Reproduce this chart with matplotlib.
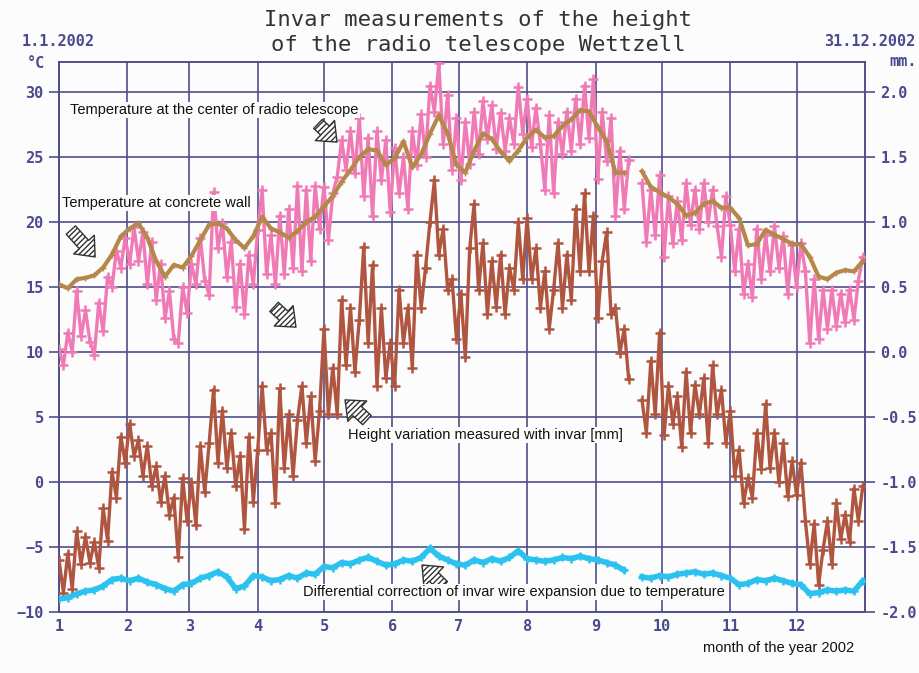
import numpy as np
import matplotlib
matplotlib.use("Agg")
import matplotlib.pyplot as plt
from matplotlib.patches import FancyArrowPatch

# month starts (day of year) and labels
month_starts = [0, 31, 59, 90, 120, 151, 181, 212, 243, 273, 304, 334]
month_labels = ['1', '2', '3', '4', '5', '6', '7', '8', '9', '10', '11', '12']

nan = np.nan

# temperature at centre of radio telescope, every 2 days (deg C)
temp_center = [
    10.2, 9.0, 11.5, 10.0, 14.7, 11.2, 13.2, 10.8, 9.8, 13.8, 11.6, 15.8, 15.0, 17.8, 16.5, 18.8,
    16.8, 19.6, 17.0, 19.2, 15.2, 18.5, 14.0, 16.8, 12.6, 14.7, 11.0, 10.7, 15.0, 13.0,
    16.8, 15.2, 18.8, 15.5, 14.4, 22.3, 18.0, 19.9, 15.8, 18.5, 13.5, 16.8, 12.9, 17.5, 15.2,
    19.4, 22.5, 16.0, 19.0, 15.2, 20.5, 16.0, 21.0, 16.5, 22.8, 16.2, 22.5, 17.0, 22.8, 19.5,
    22.7, 18.6, 22.2, 23.5, 26.3, 24.0, 27.0, 23.8, 28.0, 22.0, 26.5, 20.5, 27.0, 23.2, 26.3, 20.8,
    25.7, 22.2, 25.0, 21.0, 27.0, 24.4, 28.3, 25.0, 30.5, 28.5, 32.2, 26.0, 29.8, 24.0, 28.0,
    23.2, 27.7, 24.5, 28.5, 25.2, 29.3, 26.4, 29.0, 25.6, 28.4, 25.5, 28.0, 26.0, 30.4, 26.8,
    29.5, 25.8, 28.8, 26.0, 22.5, 28.2, 22.2, 27.7, 25.2, 28.5, 25.5, 29.5, 26.0, 30.5, 26.5, 31.0,
    23.3, 28.5, 24.7, 28.0, 20.5, 25.5, 21.0, 24.8, nan, nan, 23.0, 18.5, 22.5, 19.0, 23.6,
    17.3, 22.0, 18.4, 21.6, 18.6, 23.0, 19.8, 22.5, 19.5, 23.0, 20.0, 22.5, 19.7, 17.3, 22.0,
    19.8, 16.2, 19.5, 14.5, 16.8, 14.2, 19.5, 15.6, 19.0, 16.2, 19.7, 16.5, 18.9, 14.5, 18.2,
    15.0, 18.4, 16.2, 10.7, 15.6, 11.0, 14.8, 11.8, 14.8, 12.0, 14.5, 12.3, 14.8, 12.5, 15.5, 17.3,
]

# height variation measured with invar, every 2 days (drawn on the deg C scale)
height_var = [
    -6.0, -8.5, -5.5, -8.2, -3.8, -6.3, -4.2, -6.2, -4.6, -6.6, -2.0, -4.5, 0.8, -1.2, 3.5, 1.5,
    4.5, 2.0, 3.2, 0.5, 2.8, -0.3, 1.2, -1.5, 0.5, -2.5, -1.2, -5.8, 0.3, -3.0,
    0.0, -3.3, 2.8, -0.8, 3.0, 7.1, 1.5, 5.5, 1.1, 3.8, -0.3, 2.0, -3.6, 3.5, -1.5,
    2.5, 7.4, 2.5, 3.8, -1.6, 7.2, 1.1, 5.2, 0.5, 4.8, 7.4, 3.0, 6.6, 1.6, 5.5,
    11.8, 5.2, 8.8, 5.2, 14.0, 9.0, 13.4, 8.5, 12.5, 18.1, 10.7, 16.7, 7.4, 13.4, 8.0, 10.7,
    7.4, 14.8, 10.7, 13.4, 8.8, 17.5, 13.4, 16.5, 20.0, 23.2, 17.5, 19.5, 14.8, 15.6, 11.0,
    14.5, 9.6, 18.0, 21.4, 14.8, 18.4, 12.9, 17.0, 13.5, 17.5, 12.9, 16.5, 14.8, 20.0, 15.6,
    20.3, 15.6, 18.0, 13.4, 16.2, 11.8, 14.8, 18.4, 13.4, 17.5, 14.0, 21.0, 16.2, 22.2, 16.2, 20.5,
    12.6, 17.0, 19.2, 12.9, 13.4, 9.9, 11.8, 7.9, nan, nan, 6.3, 3.8, 9.3, 5.2, 11.5,
    3.6, 7.4, 4.5, 6.6, 2.7, 8.5, 3.8, 7.5, 5.2, 8.0, 3.0, 9.0, 5.2, 7.1, 3.0,
    5.5, 0.5, 2.5, -1.6, 0.3, -1.2, 3.8, 1.0, 6.0, 1.1, 3.8, 0.0, 3.0, -1.1, 1.6,
    -1.0, 1.5, -3.0, -6.3, -3.2, -7.9, -5.2, -3.0, -6.3, -1.6, -4.4, -2.5, -4.6, -0.5, -3.0, -0.3,
]

# temperature at concrete wall, every 4 days (deg C)
temp_wall = [
    15.2, 14.9, 15.6, 15.7, 15.9, 16.5, 17.5, 18.9,
    19.5, 19.9, 18.8, 17.0, 15.8, 16.7, 16.5,
    17.4, 18.6, 19.8, 19.9, 19.5, 18.6, 18.0, 18.9,
    20.4, 19.5, 19.2, 18.8, 19.3, 20.0, 20.4,
    21.2, 22.0, 23.1, 24.0, 25.0, 25.6, 25.5, 24.4,
    24.9, 26.2, 24.2, 25.2, 26.8, 28.2, 26.8,
    24.4, 23.8, 25.5, 26.8, 26.4, 25.4, 24.7, 25.5,
    26.5, 27.1, 26.5, 26.6, 27.4, 27.9, 28.6, 28.5,
    27.3, 26.2, 23.8, 23.8, nan, 23.9, 22.7,
    22.3, 21.9, 21.4, 20.5, 20.7, 21.4, 21.6, 21.1,
    21.1, 20.3, 18.2, 18.3, 19.4, 19.0, 18.7, 18.3,
    18.3, 17.3, 15.8, 15.6, 16.1, 16.3, 16.2, 17.0,
]

# differential correction of invar wire expansion, every 4 days (deg C scale)
diff_corr = [
    -9.0, -8.9, -8.6, -8.4, -8.3, -8.0, -7.5, -7.4,
    -7.6, -7.4, -7.7, -7.9, -8.2, -8.4, -7.9,
    -7.8, -7.4, -7.2, -6.9, -7.3, -8.2, -8.0, -7.2,
    -7.3, -7.6, -7.5, -7.2, -7.4, -7.0, -7.1,
    -6.5, -6.6, -6.2, -6.3, -6.0, -5.8, -6.1, -6.4,
    -6.3, -6.0, -6.1, -5.8, -5.1, -5.7, -6.0,
    -6.3, -6.4, -6.0, -6.2, -5.9, -6.1, -5.8, -5.3,
    -5.9, -6.0, -6.1, -6.0, -5.8, -5.9, -5.7, -5.9,
    -6.0, -6.2, -6.4, -6.8, nan, -7.3, -7.4,
    -7.2, -7.3, -7.1, -7.0, -6.9, -7.1, -7.0, -7.2,
    -7.4, -7.9, -7.8, -7.5, -7.6, -7.4, -7.6, -7.8,
    -7.9, -8.6, -8.5, -8.3, -8.4, -8.3, -8.4, -7.6,
]

days2 = np.arange(len(temp_center)) * 2
days4 = np.arange(len(temp_wall)) * 4

frame_col = '#4f4f8c'
label_col = '#4a4a8e'

fig = plt.figure(figsize=(9.19, 6.73), dpi=100, facecolor='#fcfcfc')
ax = fig.add_axes([59 / 919, 1 - 612 / 673, 806 / 919, 550 / 673])
ax.set_facecolor('#fcfcfc')

ax.plot(days2, temp_center, color='#f07ab6', lw=2.4, marker='+', ms=7, mew=1.8, zorder=3)
ax.plot(days4, temp_wall, color='#b5874a', lw=3, marker='+', ms=4, zorder=4)
ax.plot(days2, height_var, color='#b0553f', lw=2.4, marker='+', ms=7, mew=1.8, zorder=3)
ax.plot(days4, diff_corr, color='#2cc2f0', lw=4, marker='+', ms=6, mew=1.8, zorder=3)

ax.set_xlim(0, 365)
ax.set_ylim(-10, 30 + 30 / 13)
ax.set_xticks(month_starts)
ax.set_xticklabels(month_labels)
ax.set_yticks(range(-10, 31, 5))
ax.grid(True, color=frame_col, lw=1.2, zorder=1)
ax.set_axisbelow(True)
for s in ax.spines.values():
    s.set_color(frame_col)
    s.set_linewidth(1.4)
ax.tick_params(axis='y', direction='out', length=7, width=1.2, color=frame_col,
               labelcolor=label_col, labelsize=11, pad=4)
ax.tick_params(axis='x', length=0, labelcolor=label_col, labelsize=11, pad=5)
for lab in ax.get_xticklabels() + ax.get_yticklabels():
    lab.set_fontfamily('DejaVu Sans Mono')
    lab.set_fontweight('bold')

ax2 = ax.twinx()
ax2.set_ylim(-2.0, (30 + 30 / 13 - 10) / 10)
ax2.set_yticks(np.arange(-2.0, 2.01, 0.5))
ax2.set_yticklabels(['%.1f' % v for v in np.arange(-2.0, 2.01, 0.5)])
ax2.tick_params(axis='y', direction='out', length=7, width=1.2, color=frame_col,
                labelcolor=label_col, labelsize=11, pad=4)
for lab in ax2.get_yticklabels():
    lab.set_fontfamily('DejaVu Sans Mono')
    lab.set_fontweight('bold')
for s in ax2.spines.values():
    s.set_visible(False)


def fp(x, y):
    return (x / 919, 1 - y / 673)


# title and corner labels
fig.text(*fp(478, 20), 'Invar measurements of the height', ha='center', va='center',
         fontsize=16, color='#333333', fontfamily='DejaVu Sans Mono')
fig.text(*fp(478, 45), 'of the radio telescope Wettzell', ha='center', va='center',
         fontsize=16, color='#333333', fontfamily='DejaVu Sans Mono')
bold_mono = dict(fontfamily='DejaVu Sans Mono', fontweight='bold', color=label_col, fontsize=11)
fig.text(*fp(22, 42), '1.1.2002', ha='left', va='center', **bold_mono)
fig.text(*fp(915, 42), '31.12.2002', ha='right', va='center', **bold_mono)
fig.text(*fp(36, 64), '°C', ha='center', va='center', **bold_mono)
fig.text(*fp(903, 62), 'mm.', ha='center', va='center', **bold_mono)

# annotations
note = dict(fontfamily=['Liberation Sans Narrow', 'Liberation Sans'], fontsize=10.5,
            color='#111111', va='center', zorder=10,
            bbox=dict(facecolor='#fcfcfc', edgecolor='none', pad=1))
fig.text(*fp(70, 110), 'Temperature at the center of radio telescope', ha='left', **note)
fig.text(*fp(62, 203), 'Temperature at concrete wall', ha='left', **note)
fig.text(*fp(348, 435), 'Height variation measured with invar [mm]', ha='left', **note)
fig.text(*fp(303, 592), 'Differential correction of invar wire expansion due to temperature',
         ha='left', **note)
fig.text(*fp(703, 648), 'month of the year 2002', ha='left', **note)

arrows = [((316, 122), (339, 144)), ((69, 228), (97, 259)), ((272, 305), (298, 329)),
          ((369, 422), (343, 398)), ((445, 588), (420, 563))]
for (x0, y0), (x1, y1) in arrows:
    arr = FancyArrowPatch(fp(x0, y0), fp(x1, y1), transform=fig.transFigure,
                          arrowstyle='simple,head_length=0.6,head_width=1.0,tail_width=0.45',
                          mutation_scale=20, facecolor='white', edgecolor='#333333',
                          hatch='//////', lw=1.0, zorder=10)
    fig.patches.append(arr)

fig.savefig('out.png', dpi=100, facecolor=fig.get_facecolor())
